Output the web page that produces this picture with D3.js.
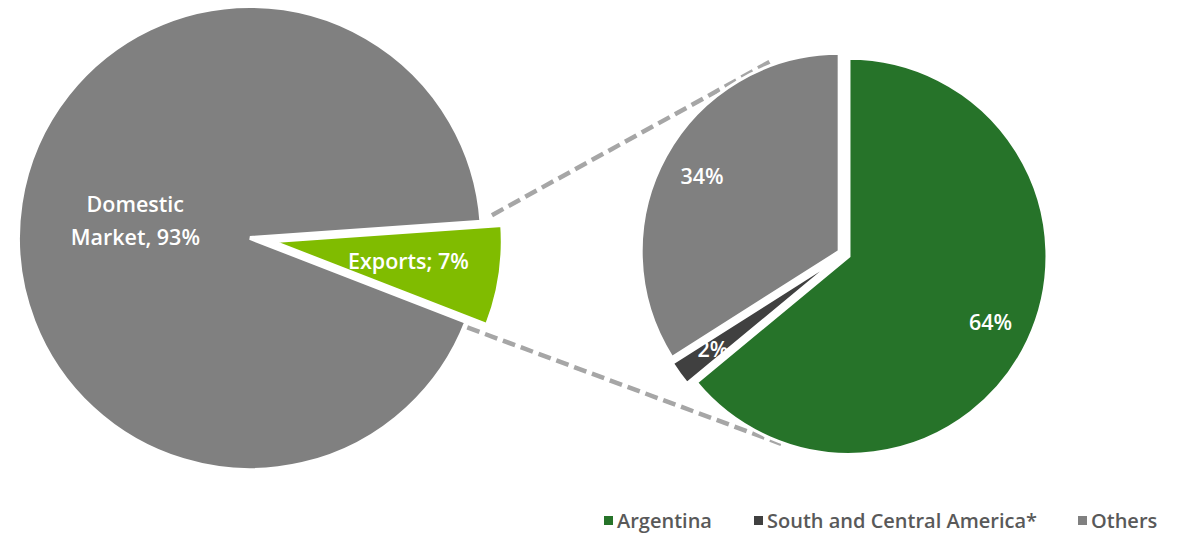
<!DOCTYPE html>
<html>
<head>
<meta charset="utf-8">
<script src="https://cdn.jsdelivr.net/npm/d3@7"></script>
<style>
  body { margin: 0; background: #fff; }
  svg { display: block; font-family: "Open Sans", "Noto Sans", sans-serif; }
</style>
</head>
<body>
<svg id="chart"></svg>
<script>
const width = 1180;
const height = 533;

// main split of sales
const mainLabels = ["Exports", "Domestic Market"];
const mainValues = [7, 93];
const mainColors = ["#80bc00", "#808080"];

// breakdown of exports
const exportLabels = ["Argentina", "South and Central America*", "Others"];
const exportValues = [64, 2, 34];
const exportColors = ["#267329", "#404040", "#808080"];

const deg = Math.PI / 180;
const polar = (c, a, r) => [c[0] + Math.sin(a) * r, c[1] - Math.cos(a) * r];

const svg = d3.select("#chart")
  .attr("width", width)
  .attr("height", height)
  .attr("viewBox", [0, 0, width, height]);

// **************** left pie ****************
const leftC = [250, 238];
const leftR = 232;
const leftPie = d3.pie().sort(null).startAngle(86 * deg).endAngle(86 * deg + 2 * Math.PI);
const leftArcs = leftPie(mainValues);
const leftArc = d3.arc().innerRadius(0).outerRadius(leftR);
const explode = (d, k) => {
  const m = (d.startAngle + d.endAngle) / 2;
  return [Math.sin(m) * k, -Math.cos(m) * k];
};
const leftOffsets = [21, 0];

const gl = svg.append("g").attr("transform", `translate(${leftC})`);
gl.selectAll("path")
  .data(leftArcs)
  .join("path")
  .attr("transform", (d, i) => `translate(${explode(d, leftOffsets[i])})`)
  .attr("d", leftArc)
  .attr("fill", (d, i) => mainColors[i])
  .attr("stroke", "#fff")
  .attr("stroke-width", 4);

// labels of left pie
const leftLabelR = [0.6, 0.5];
gl.selectAll("text.lab")
  .data(leftArcs)
  .join("text")
  .attr("class", "lab")
  .attr("fill", "#fff")
  .attr("font-size", 21.5)
  .attr("font-weight", 600)
  .attr("text-anchor", "middle")
  .each(function(d, i) {
    const m = (d.startAngle + d.endAngle) / 2;
    const o = explode(d, leftOffsets[i]);
    const p = [o[0] + Math.sin(m) * leftR * leftLabelR[i], o[1] - Math.cos(m) * leftR * leftLabelR[i]];
    const t = d3.select(this);
    if (i === 0) {
      t.append("tspan").attr("x", p[0]).attr("y", p[1] + 7).text(`${mainLabels[i]}; ${mainValues[i]}%`);
    } else {
      t.append("tspan").attr("x", p[0]).attr("y", p[1] - 9).text("Domestic");
      t.append("tspan").attr("x", p[0]).attr("y", p[1] + 24).text(`Market, ${mainValues[i]}%`);
    }
  });

// **************** right pie ****************
const rightC = [844, 254];
const rightR = 198;
const rightPie = d3.pie().sort(null);
const rightArcs = rightPie(exportValues);
const rightArc = d3.arc().innerRadius(0).outerRadius(rightR);
const rightOff = 5.5;

// connector lines
const ex = leftArcs[0];
const exC = [leftC[0] + explode(ex, leftOffsets[0])[0], leftC[1] + explode(ex, leftOffsets[0])[1]];
const lines = [
  [polar(exC, ex.startAngle - 2.7 * deg, leftR * 0.96), polar(rightC, -21 * deg, 206)],
  [polar(exC, ex.endAngle + 2.5 * deg, leftR * 0.925), polar(rightC, 198.3 * deg, 200)]
];
svg.append("g")
  .selectAll("line")
  .data(lines)
  .join("line")
  .attr("x1", d => d[0][0]).attr("y1", d => d[0][1])
  .attr("x2", d => d[1][0]).attr("y2", d => d[1][1])
  .attr("stroke", "#a6a6a6")
  .attr("stroke-width", 4.5)
  .attr("stroke-dasharray", "13,6");

const gr = svg.append("g").attr("transform", `translate(${rightC})`);
gr.selectAll("path")
  .data(rightArcs)
  .join("path")
  .attr("transform", d => `translate(${explode(d, rightOff)})`)
  .attr("d", rightArc)
  .attr("fill", (d, i) => exportColors[i])
  .attr("stroke", "#fff")
  .attr("stroke-width", 3);

gr.selectAll("text")
  .data(rightArcs)
  .join("text")
  .attr("transform", d => {
    const m = (d.startAngle + d.endAngle) / 2;
    const o = explode(d, rightOff);
    return `translate(${o[0] + Math.sin(m) * rightR * 0.79},${o[1] - Math.cos(m) * rightR * 0.79})`;
  })
  .attr("dy", "0.35em")
  .attr("fill", "#fff")
  .attr("font-size", 21.5)
  .attr("font-weight", 600)
  .attr("text-anchor", "middle")
  .text(d => `${d.data}%`);

// **************** legend ****************
const legendX = [604, 754, 1078];
const lg = svg.append("g").attr("transform", "translate(0,521)");
const items = lg.selectAll("g")
  .data(exportLabels)
  .join("g")
  .attr("transform", (d, i) => `translate(${legendX[i]},0)`);
items.append("rect")
  .attr("x", 0).attr("y", -5)
  .attr("width", 9).attr("height", 9)
  .attr("fill", (d, i) => exportColors[i]);
items.append("text")
  .attr("x", 13)
  .attr("dy", "0.35em")
  .attr("fill", "#595959")
  .attr("font-size", 20)
  .attr("font-weight", 600)
  .text(d => d);
</script>
</body>
</html>
